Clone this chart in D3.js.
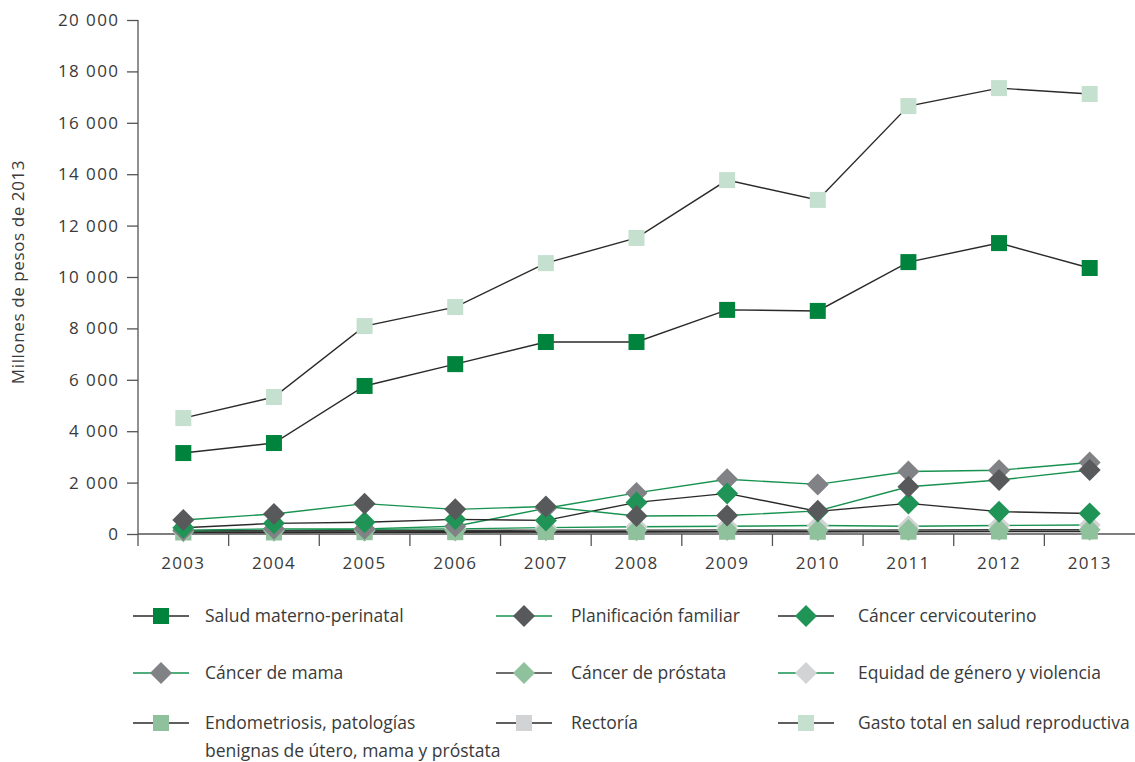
<!DOCTYPE html>
<html><head><meta charset="utf-8">
<script src="https://cdn.jsdelivr.net/npm/d3@7"></script>
<style>
body{margin:0;background:#fff;}
svg text{font-family:"Open Sans","Noto Sans",sans-serif;fill:#3a3a3a;}
</style></head>
<body><svg id="c" width="1135" height="762"></svg>
<script>
const years = ["2003","2004","2005","2006","2007","2008","2009","2010","2011","2012","2013"];
const yTicks = [0,2000,4000,6000,8000,10000,12000,14000,16000,18000,20000];
const saludMaterno = [3150,3540,5760,6610,7470,7470,8720,8680,10580,11320,10350];
const planificacion = [545,780,1180,960,1070,700,720,900,1840,2100,2490];
const cervicouterino = [245,415,460,570,530,1230,1580,880,1190,870,800];
const cancerMama = [150,200,200,300,1000,1600,2130,1930,2430,2480,2780];
const cancerProstata = [120,130,130,140,150,150,160,150,160,170,170];
const equidad = [100,150,180,200,250,280,300,330,300,330,350];
const endometriosis = [60,60,70,70,80,80,90,90,90,100,100];
const rectoria = [80,80,80,90,90,100,100,100,110,110,110];
const gastoTotal = [4510,5330,8090,8830,10540,11520,13770,13000,16650,17350,17120];

const seriesNames = ["Salud materno-perinatal","Planificación familiar","Cáncer cervicouterino",
 "Cáncer de mama","Cáncer de próstata","Equidad de género y violencia",
 ["Endometriosis, patologías","benignas de útero, mama y próstata"],"Rectoría","Gasto total en salud reproductiva"];
const seriesValues = [saludMaterno,planificacion,cervicouterino,cancerMama,cancerProstata,equidad,endometriosis,rectoria,gastoTotal];
const BLACK="#2b2a29", GREEN="#17924f";
const styles = [
 {shape:"square",fill:"#00843d",line:BLACK},
 {shape:"diamond",fill:"#58595b",line:GREEN},
 {shape:"diamond",fill:"#1f9456",line:BLACK},
 {shape:"diamond",fill:"#808285",line:GREEN},
 {shape:"diamond",fill:"#8fc19c",line:"#3d3d3d"},
 {shape:"diamond",fill:"#d1d3d4",line:GREEN},
 {shape:"square",fill:"#8fc19c",line:BLACK},
 {shape:"square",fill:"#d1d3d4",line:BLACK},
 {shape:"square",fill:"#c5e0cf",line:BLACK}
];

const svg = d3.select("#c");
const x = d3.scaleBand().domain(years).range([138,1135]).padding(0);
const y = d3.scaleLinear().domain([0,20000]).range([534,20]);
const AX="#555";

// y axis
const yAxis = svg.append("g").attr("transform","translate(138,0)")
  .call(d3.axisLeft(y).tickValues(yTicks).tickSize(11).tickPadding(9)
  .tickFormat(d=>d3.format(",")(d).replace(/,/g," ")));
yAxis.select(".domain").remove();
yAxis.selectAll("line").attr("stroke",AX).attr("stroke-width",1.3);
yAxis.selectAll("text").style("font-size","17px").style("letter-spacing","1.4px")
  .attr("dx","1.4px").attr("fill","#3a3a3a");
svg.append("line").attr("x1",138).attr("x2",138).attr("y1",y(20000)).attr("y2",546).attr("stroke",AX).attr("stroke-width",1.3);

// x axis
svg.append("line").attr("x1",138).attr("x2",1135).attr("y1",534).attr("y2",534).attr("stroke",AX).attr("stroke-width",1.3);
const bounds = years.map(d=>x(d)+x.bandwidth());
svg.selectAll(".xt").data(bounds.slice(0,-1)).enter().append("line")
  .attr("x1",d=>d).attr("x2",d=>d).attr("y1",534).attr("y2",546).attr("stroke",AX).attr("stroke-width",1.3);
svg.selectAll(".xl").data(years).enter().append("text")
  .attr("x",d=>x(d)+x.bandwidth()/2).attr("y",569).attr("text-anchor","middle")
  .style("font-size","17px").style("letter-spacing","1.3px").text(d=>d);

svg.append("text").attr("transform","translate(24,272) rotate(-90)").attr("text-anchor","middle")
  .style("font-size","17px").style("letter-spacing","0.6px").text("Millones de pesos de 2013");

function marker(g,shape,fill,cx,cy){
  if(shape==="square"){
    g.append("rect").attr("x",cx-8).attr("y",cy-8).attr("width",16).attr("height",16).attr("fill",fill);
  } else {
    const r=11;
    g.append("path").attr("d",`M${cx},${cy-r}L${cx+r},${cy}L${cx},${cy+r}L${cx-r},${cy}Z`).attr("fill",fill);
  }
}

const line = d3.line().x((d,i)=>x(years[i])+x.bandwidth()/2).y(d=>y(d));
const plot = svg.append("g");
for(let s=seriesValues.length-1;s>=0;s--){
  const g = plot.append("g");
  g.append("path").attr("d",line(seriesValues[s])).attr("fill","none")
    .attr("stroke",styles[s].line).attr("stroke-width",1.4);
  seriesValues[s].forEach((v,i)=>marker(g,styles[s].shape,styles[s].fill,x(years[i])+x.bandwidth()/2,y(v)));
}

// legend
const colX=[133,496,778], textX=[205,571,858], rowY=[616,673,723];
seriesNames.forEach((name,i)=>{
  const c=i%3, cx=colX[c], cy=rowY[Math.floor(i/3)];
  const g=svg.append("g");
  g.append("line").attr("x1",cx).attr("x2",cx+56).attr("y1",cy).attr("y2",cy).attr("stroke",styles[i].line).attr("stroke-width",1.4);
  marker(g,styles[i].shape,styles[i].fill,cx+28,cy);
  const lines = Array.isArray(name)?name:[name];
  lines.forEach((t,k)=>g.append("text").attr("x",textX[c]).attr("y",cy+6+k*28).style("font-size","17.5px").text(t));
});
</script></body></html>
